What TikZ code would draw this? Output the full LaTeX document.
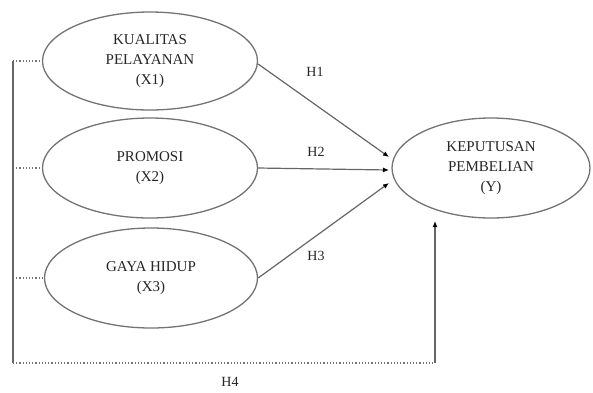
\documentclass[tikz,border=0pt]{standalone}
\usepackage{fontspec}
\setmainfont{Liberation Serif}
\usetikzlibrary{arrows.meta,shapes.geometric}
\begin{document}
\begin{tikzpicture}[x=1pt,y=-1pt,
  var/.style={ellipse,draw=black!55,line width=1.3pt,align=center,font=\fontsize{15}{20}\selectfont,text=black!85,inner sep=0pt},
  conn/.style={draw=black!60,line width=1.2pt},
  dotln/.style={draw=black!55,line width=1.2pt,dotted},
  tip/.style={-{Latex[length=6pt,width=5pt,color=black]}},
  hlab/.style={font=\fontsize{14}{16}\selectfont,text=black!85}]
\useasboundingbox (0,0) rectangle (593,392);
\node[var,minimum width=215,minimum height=98] (x1) at (150,61) {KUALITAS\\PELAYANAN\\(X1)};
\node[var,minimum width=215,minimum height=100] (x2) at (150,168) {PROMOSI\\(X2)};
\node[var,minimum width=213,minimum height=100] (x3) at (151,278) {GAYA HIDUP\\(X3)};
\node[var,minimum width=198,minimum height=100] (y) at (491,168) {KEPUTUSAN\\PEMBELIAN\\(Y)};
\coordinate (a1) at (389,157);
\coordinate (a2) at (389,170);
\coordinate (a3) at (389,183);
\coordinate (l1) at (13,61);
\coordinate (l2) at (13,168);
\coordinate (l3) at (13,278);
\coordinate (bl) at (13,363);
\coordinate (br) at (435,363);
\coordinate (ye) at (435,221);
\draw[conn,tip] (x1.east) ++(0,3) -- (a1);
\draw[conn,tip] (x2.east) -- (a2);
\draw[conn,tip] (x3.east) -- (a3);
\draw[dotln] (l1) -- (x1.west);
\draw[dotln] (l2) -- (x2.west);
\draw[dotln] (l3) -- (x3.west);
\draw[conn] (l1) -- (bl);
\draw[dotln] (bl) -- (br);
\draw[conn,tip] (br) -- (ye);
\node[hlab] (h1) at (315,72) {H1};
\node[hlab] (h2) at (316,152) {H2};
\node[hlab] (h3) at (316,256) {H3};
\node[hlab] (h4) at (230,382) {H4};
\end{tikzpicture}
\end{document}
